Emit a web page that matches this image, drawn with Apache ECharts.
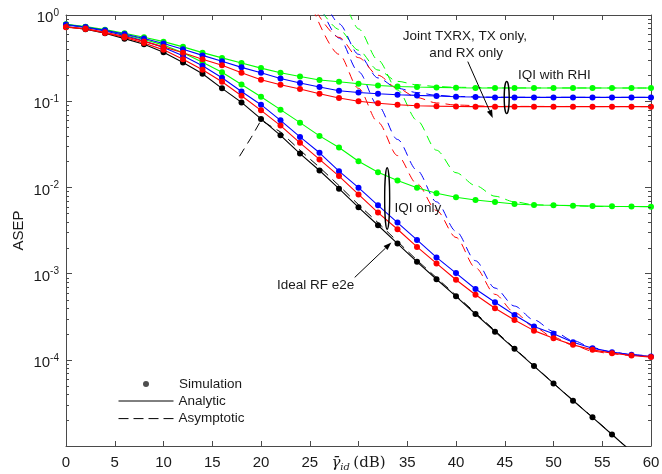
<!DOCTYPE html>
<html>
<head>
<meta charset="utf-8">
<script src="https://cdn.jsdelivr.net/npm/echarts@6/dist/echarts.min.js"></script>
<style>
html,body{margin:0;padding:0;background:#fff}
#main{width:662px;height:474px}
</style>
</head>
<body>
<div id="main"></div>
<script>
// simulated SNR points (dB)
var snr = [0,2,4,6,8,10,12,14,16,18,20,22,24,26,28,30,32,34,36,38,40,42,44,46,48,50,52,54,56,58,60];

// ideal RF e2e
var ideal = [0.733,0.684,0.614,0.532,0.458,0.370,0.281,0.208,0.141,0.0969,
  0.0623,0.0402,0.0247,0.0157,0.00966,0.00587,0.00364,0.00223,0.00137,8.6e-4,
  5.45e-4,3.40e-4,2.12e-4,1.34e-4,8.45e-5,5.32e-5,3.36e-5,2.15e-5,1.36e-5,8.6e-6,5.4e-6];

// IQI only (green / blue / red)
var iqiGreen = [0.777,0.727,0.662,0.595,0.521,0.45,0.364,0.2825,0.2163,0.1563,
  0.1127,0.0798,0.0564,0.0396,0.029,0.0201,0.01503,0.01205,0.00992,0.00857,
  0.0077,0.00713,0.00676,0.00641,0.00624,0.0062,0.00614,0.00608,0.00603,0.006,0.00598];
var iqiBlue = [0.766,0.717,0.653,0.579,0.5,0.421,0.3357,0.2573,0.187,0.1298,
  0.0911,0.06,0.0385,0.0252,0.01543,0.00992,0.0062,0.00391,0.00246,0.00154,
  1.014e-3,6.62e-4,4.65e-4,3.31e-4,2.43e-4,2.0e-4,1.6e-4,1.365e-4,1.227e-4,1.142e-4,1.092e-4];
var iqiRed = [0.721,0.689,0.619,0.55,0.4745,0.394,0.306,0.2313,0.168,0.1158,
  0.0783,0.0521,0.0329,0.0211,0.01352,0.0083,0.0051,0.00327,0.00204,0.001312,
  8.48e-4,5.69e-4,3.96e-4,2.9e-4,2.18e-4,1.78e-4,1.49e-4,1.305e-4,1.195e-4,1.122e-4,1.075e-4];

// IQI with RHI (green / blue / red)
var rhiGreen = [0.781,0.733,0.676,0.614,0.552,0.491,0.427,0.366,0.318,0.277,
  0.242,0.2136,0.1936,0.176,0.168,0.1594,0.1524,0.1483,0.146,0.1445,
  0.1432,0.1425,0.1422,0.1422,0.1422,0.1422,0.1422,0.1422,0.1422,0.1422,0.1422];
var rhiBlue = [0.777,0.727,0.665,0.603,0.535,0.468,0.401,0.340,0.290,0.247,
  0.2136,0.1835,0.1623,0.146,0.1322,0.1264,0.1221,0.1189,0.1167,0.1148,
  0.1127,0.1119,0.1107,0.1107,0.1107,0.1107,0.1107,0.1107,0.1107,0.1107,0.1107];
var rhiRed = [0.727,0.695,0.631,0.564,0.494,0.4266,0.364,0.306,0.261,0.2136,
  0.1772,0.155,0.1384,0.1221,0.1089,0.100,0.0948,0.0911,0.0887,0.0876,
  0.0869,0.0864,0.0864,0.0864,0.0864,0.0864,0.0864,0.0864,0.0864,0.0864,0.0864];

// asymptotic curves, [snr, asep]
var asyIdeal = [[17.8,0.023],[19,0.038],[20,0.06],[22,0.044],[24,0.027],[26,0.0171],[28,0.0105],
  [30,0.0063],[32,0.0039],[34,0.00236],[36,0.00143],[40,5.6e-4],[46,1.36e-4],[50,5.35e-5],[56,1.37e-5],[58,8.6e-6]];
var asyIqiGreen = [[29,1.1],[30,0.69],[32,0.30],[34,0.135],[36,0.060],[38,0.027],[40,0.0148],[42,0.0105],
  [44,0.0079],[46,0.0068],[48,0.0063],[50,0.0062],[55,0.0060],[60,0.00598]];
var asyIqiBlue = [[26.2,1.2],[28,0.54],[30,0.22],[32,0.089],[34,0.036],[36,0.0158],[38,0.0068],[40,0.0031],
  [42,0.00141],[44,6.8e-4],[46,4.2e-4],[48,2.9e-4],[50,2.14e-4],[52,1.67e-4],[54,1.38e-4],[56,1.23e-4],[58,1.15e-4],[60,1.1e-4]];
var asyIqiRed = [[25.3,1.2],[28,0.35],[30,0.141],[32,0.057],[34,0.0234],[36,0.011],[38,0.0054],[40,0.00263],
  [42,0.00117],[44,5.75e-4],[46,3.55e-4],[48,2.4e-4],[50,1.82e-4],[52,1.48e-4],[54,1.26e-4],[56,1.17e-4],[58,1.12e-4],[60,1.1e-4]];
var asyRhiGreen = [[26.3,1.08],[28,0.68],[30,0.39],[32,0.23],[34,0.17],[36,0.155],[38,0.148],[40,0.145],[45,0.1426],[60,0.1422]];
var asyRhiBlue = [[27.1,1.08],[28,0.79],[30,0.35],[32,0.186],[34,0.141],[36,0.126],[38,0.117],[40,0.1135],[44,0.111],[60,0.1107]];
var asyRhiRed = [[25.7,1.08],[28,0.55],[30,0.32],[32,0.2],[34,0.141],[36,0.11],[38,0.0955],[40,0.0902],[44,0.0871],[60,0.0864]];

var minorMult = [2,3,4,5,6,7,8,9];
var decades = [-5,-4,-3,-2,-1];

// annotations (data coords)
var notes = [
  {text:'Joint TXRX, TX only,', at:[40.92,0.5718]},
  {text:'and RX only', at:[41.04,0.3607]},
  {text:'IQI with RHI', at:[50.08,0.2024]},
  {text:'IQI only', at:[36.09,0.00572]},
  {text:'Ideal RF e2e', at:[25.6,7.23e-4]}
];
var arrows = [
  {from:[41.21,0.288], to:[43.77,0.064]},
  {from:[29.61,9.03e-4], to:[33.37,2.29e-3]}
];
var ellipses = [
  {x:45.2, top:0.1694, bottom:0.0717, rx:2.5},
  {x:32.94, top:0.0169, bottom:0.00327, rx:2.5}
];

var GREEN = '#00ff00', BLUE = '#0000ff', RED = '#ff0000', BLACK = '#000000';
var AXIS = '#4a4a4a', TXT = '#1a1a1a';
var FONT = '"Liberation Sans", Arial, Helvetica, sans-serif';

function zip(xs, ys){ return xs.map(function(x,i){ return [x, ys[i]]; }); }

function analytic(id, color, ys){
  return {
    id:id, type:'line', data:zip(snr, ys), symbol:'circle', symbolSize:6,
    showSymbol:true, showAllSymbol:true, clip:true, z:3,
    lineStyle:{color:color, width:1.1}, itemStyle:{color:color},
    emphasis:{disabled:true}, silent:true
  };
}
function asym(id, color, pts, smooth){
  return {
    id:id, type:'line', data:pts, symbol:'none', clip:true, z:2,
    smooth:smooth ? 0.3 : false, smoothMonotone:'x',
    lineStyle:{color:color, width:1, type:[9,6]},
    emphasis:{disabled:true}, silent:true
  };
}

var minorTicks = [];
decades.forEach(function(e){ minorMult.forEach(function(m){ minorTicks.push([0, m*Math.pow(10,e)]); }); });

var chart = echarts.init(document.getElementById('main'), null, {renderer:'canvas'});

var option = {
  animation:false,
  backgroundColor:'#fff',
  grid:{left:66, right:11, top:15, bottom:28, containLabel:false, outerBoundsMode:'none'},
  legend:[
    {
      data:[{name:'Simulation'}], left:143, top:377, itemWidth:6, itemHeight:6, padding:0,
      selectedMode:false, textStyle:{fontSize:13.5, fontFamily:FONT, color:TXT, padding:[0,0,0,25]}
    },
    {
      data:[{name:'Analytic', itemStyle:{opacity:0}}, {name:'Asymptotic', itemStyle:{opacity:0}}],
      orient:'vertical', left:118, top:394, itemWidth:55, itemHeight:14,
      itemGap:3.6, padding:0, selectedMode:false,
      lineStyle:{width:1},
      textStyle:{fontSize:13.5, fontFamily:FONT, color:TXT}
    }
  ],
  xAxis:[
    {
      type:'value', min:0, max:60, interval:5, position:'bottom',
      axisLine:{show:true, onZero:false, lineStyle:{color:AXIS, width:1}},
      axisTick:{show:true, inside:true, length:5, lineStyle:{color:AXIS}},
      splitLine:{show:false},
      axisLabel:{fontSize:15, fontFamily:FONT, color:TXT, margin:9,
        formatter:function(v){ return v === 30 ? '' : String(v); }},
      name:'{g|γ̄}{s|id} {n|(dB)}', nameLocation:'middle', nameGap:8, nameMoveOverlap:false,
      nameTextStyle:{
        verticalAlign:'top',
        rich:{
          g:{fontFamily:'"DejaVu Serif", serif', fontStyle:'italic', fontSize:15, color:TXT},
          s:{fontFamily:'"DejaVu Serif", serif', fontStyle:'italic', fontSize:10, color:TXT, padding:[8,0,0,0]},
          n:{fontFamily:'"DejaVu Serif", serif', fontSize:15, color:TXT}
        }
      }
    },
    {
      type:'value', min:0, max:60, interval:5, position:'top',
      axisLine:{show:true, onZero:false, lineStyle:{color:AXIS, width:1}},
      axisTick:{show:true, inside:true, length:5, lineStyle:{color:AXIS}},
      axisLabel:{show:false}, splitLine:{show:false}
    }
  ],
  yAxis:[
    {
      type:'log', logBase:10, min:1e-5, max:1, splitNumber:5, position:'left',
      axisLine:{show:true, onZero:false, lineStyle:{color:AXIS, width:1}},
      axisTick:{show:true, inside:true, length:6, lineStyle:{color:AXIS}},
      splitLine:{show:false},
      axisLabel:{
        margin:7, color:TXT,
        formatter:function(v){
          var e = Math.round(Math.log(v)/Math.LN10);
          if (e === -5) return '';
          return '{b|10}{e|' + e + '}';
        },
        rich:{
          b:{fontSize:15, fontFamily:FONT, color:TXT, padding:[6,0,0,0]},
          e:{fontSize:10, fontFamily:FONT, color:TXT, padding:[0,0,4,0]}
        }
      },
      name:'ASEP', nameLocation:'middle', nameGap:40, nameMoveOverlap:false,
      nameTextStyle:{fontSize:15, fontFamily:FONT, color:TXT}
    },
    {
      type:'log', logBase:10, min:1e-5, max:1, splitNumber:5, position:'right',
      axisLine:{show:true, onZero:false, lineStyle:{color:AXIS, width:1}},
      axisTick:{show:true, inside:true, length:6, lineStyle:{color:AXIS}},
      axisLabel:{show:false}, splitLine:{show:false}
    }
  ],
  series:[
    // minor log ticks on both y sides
    {
      type:'custom', data:minorTicks, silent:true, z:5, clip:false,
      renderItem:function(params, api){
        var v = api.value(1);
        var l = api.coord([0, v]), r = api.coord([60, v]);
        var y = Math.round(l[1]) + 0.5;
        return {type:'group', children:[
          {type:'line', shape:{x1:l[0], y1:y, x2:l[0]+3, y2:y}, style:{stroke:AXIS, lineWidth:1}},
          {type:'line', shape:{x1:r[0]-3, y1:y, x2:r[0], y2:y}, style:{stroke:AXIS, lineWidth:1}}
        ]};
      }
    },
    asym('asyIdeal', BLACK, asyIdeal, false),
    asym('asyIqiGreen', GREEN, asyIqiGreen, true),
    asym('asyIqiBlue', BLUE, asyIqiBlue, true),
    asym('asyIqiRed', RED, asyIqiRed, true),
    asym('asyRhiGreen', GREEN, asyRhiGreen, true),
    asym('asyRhiBlue', BLUE, asyRhiBlue, true),
    asym('asyRhiRed', RED, asyRhiRed, true),
    analytic('ideal', BLACK, ideal),
    analytic('iqiGreen', GREEN, iqiGreen),
    analytic('iqiBlue', BLUE, iqiBlue),
    analytic('iqiRed', RED, iqiRed),
    analytic('rhiGreen', GREEN, rhiGreen),
    analytic('rhiBlue', BLUE, rhiBlue),
    analytic('rhiRed', RED, rhiRed),
    // legend-only entries
    {name:'Simulation', type:'scatter', data:[], symbol:'circle', symbolSize:5, itemStyle:{color:'#222'}},
    {name:'Analytic', type:'line', data:[], symbol:'none', lineStyle:{color:BLACK, width:1}, itemStyle:{color:BLACK}},
    {name:'Asymptotic', type:'line', data:[], symbol:'none', lineStyle:{color:BLACK, width:1, type:[10,5]}, itemStyle:{color:BLACK}}
  ]
};
chart.setOption(option);

// annotations: text, arrows and ellipses placed from data coordinates
function px(pt){ return chart.convertToPixel({xAxisIndex:0, yAxisIndex:0}, pt); }
var g = [];
notes.forEach(function(n){
  var p = px(n.at);
  g.push({type:'text', x:p[0], y:p[1], z:10, silent:true,
    style:{text:n.text, font:'13.5px ' + FONT, fill:TXT, align:'center', verticalAlign:'middle',
      textAlign:'center', textVerticalAlign:'middle'}});
});
arrows.forEach(function(a){
  var p = px(a.from), q = px(a.to);
  var dx = q[0]-p[0], dy = q[1]-p[1], L = Math.sqrt(dx*dx+dy*dy), ux = dx/L, uy = dy/L;
  var hl = 8, hw = 2.8, bx = q[0]-ux*hl, by = q[1]-uy*hl;
  g.push({type:'line', z:10, silent:true, shape:{x1:p[0], y1:p[1], x2:bx, y2:by}, style:{stroke:'#000', lineWidth:1}});
  g.push({type:'polygon', z:10, silent:true,
    shape:{points:[[q[0],q[1]],[bx-uy*hw, by+ux*hw],[bx+uy*hw, by-ux*hw]]}, style:{fill:'#000'}});
});
ellipses.forEach(function(e){
  var t = px([e.x, e.top]), b = px([e.x, e.bottom]);
  g.push({type:'ellipse', z:10, silent:true,
    shape:{cx:t[0], cy:(t[1]+b[1])/2, rx:e.rx, ry:(b[1]-t[1])/2},
    style:{fill:'none', stroke:'#000', lineWidth:1.4}});
});
chart.setOption({graphic:g});
</script>
</body>
</html>
